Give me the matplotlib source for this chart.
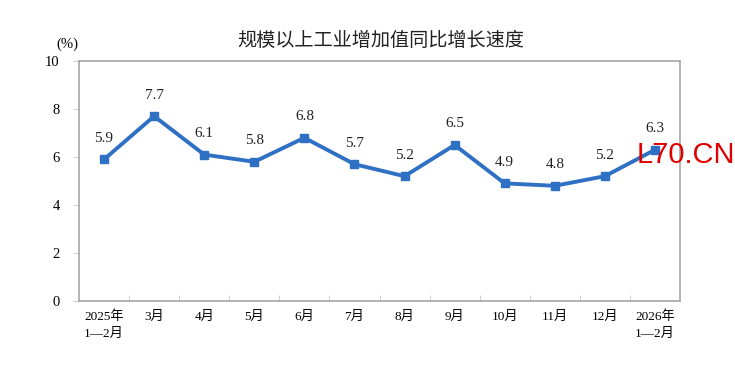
import matplotlib
matplotlib.use("Agg")
import matplotlib.pyplot as plt

categories = ["2025年\n1—2月", "3月", "4月", "5月", "6月", "7月", "8月", "9月",
              "10月", "11月", "12月", "2026年\n1—2月"]
values = [5.9, 7.7, 6.1, 5.8, 6.8, 5.7, 5.2, 6.5, 4.9, 4.8, 5.2, 6.3]
yticks = [0, 2, 4, 6, 8, 10]

fam = ["Liberation Serif", "Noto Sans CJK SC", "DejaVu Sans"]
plt.rcParams['font.family'] = fam

fig = plt.figure(figsize=(7.35, 3.69), dpi=100)
ax = fig.add_axes([79/735, 1 - 301/369, (680-79)/735, (301-61)/369])

x = list(range(len(values)))
ax.plot(x, values, color="#2E70C4", lw=2.8, marker="s", ms=5.5, zorder=3)
for xi, v in zip(x, values):
    ax.annotate(f"{v:.1f}", (xi, v), xytext=(0, 10.5), textcoords="offset points",
                ha="center", va="bottom", fontsize=11, color="#222222")

ax.set_xlim(-0.5, len(values) - 0.5)
ax.set_ylim(0, 10)
ax.set_yticks(yticks)
ax.set_yticklabels([str(t) for t in yticks], fontsize=10.5)
ax.set_xticks(x)
ax.set_xticklabels(categories, fontsize=9.5, linespacing=1.5, va="top")
ax.tick_params(axis="x", length=0, pad=7)
ax.set_xticks([i + 0.5 for i in range(len(values) - 1)], minor=True)
ax.tick_params(axis="x", which="minor", direction="in", length=4, color="#c8c8c8")
ax.tick_params(axis="y", direction="out", length=4, color="#d0d0d0", pad=10)
for s in ax.spines.values():
    s.set_color("#a6a6a6")
    s.set_linewidth(1.2)

fig.text(381/735, 1 - 40/369, "规模以上工业增加值同比增长速度", ha="center", va="center",
         fontsize=13.8, family=["Noto Sans CJK SC", "DejaVu Sans"], color="#222222")
fig.text(67/735, 1 - 44/369, "(%)", ha="center", va="center", fontsize=10.5)
fig.text(735/735, 1 - 155/369, "L70.CN", ha="right", va="center", fontsize=21,
         color="#e00000", family=["Liberation Sans", "DejaVu Sans"])

fig.savefig("out.png", dpi=100)
